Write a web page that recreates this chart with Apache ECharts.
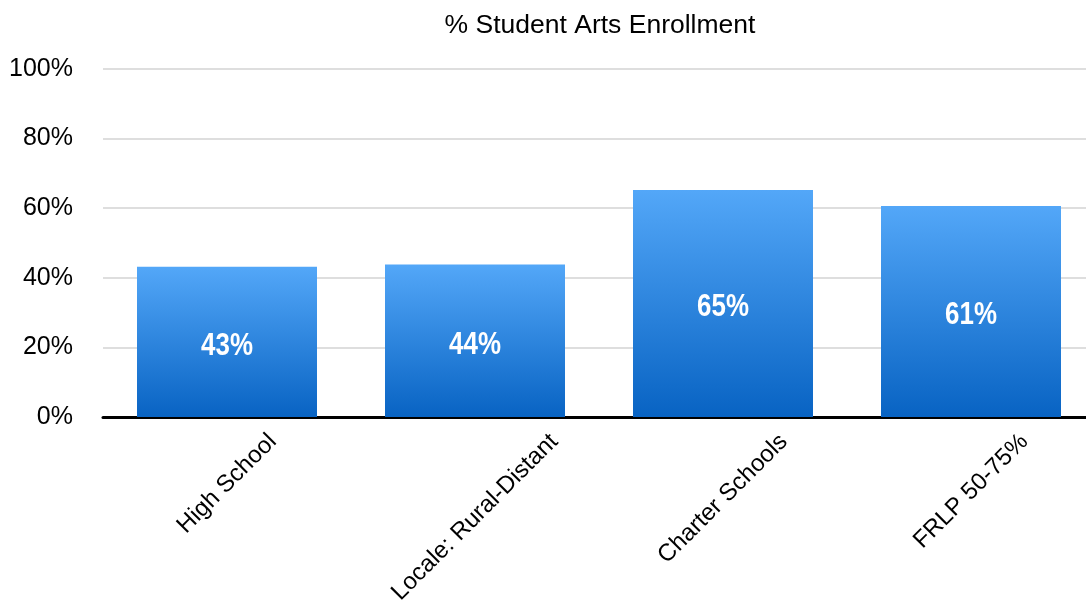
<!DOCTYPE html>
<html>
<head>
<meta charset="utf-8">
<script src="https://cdn.jsdelivr.net/npm/echarts@6/dist/echarts.min.js"></script>
<style>
  html, body { margin: 0; padding: 0; background: #fff; overflow: hidden; }
  #chart { width: 1086px; height: 601px; }
</style>
</head>
<body>
<div id="chart"></div>
<script>
const title = '% Student Arts Enrollment';
const categories = ['High School', 'Locale: Rural-Distant', 'Charter Schools', 'FRLP 50-75%'];
const values = [43.2, 43.8, 65.2, 60.6];
const yTicks = [0, 20, 40, 60, 80, 100];

const FONT = '"Liberation Sans", Arial, Helvetica, sans-serif';
const X_FONT_SIZE = 24;

// measure category label widths to centre rotated labels on their category
const ctx = document.createElement('canvas').getContext('2d');
ctx.font = X_FONT_SIZE + 'px ' + FONT;
const rich = {};
categories.forEach((c, i) => {
  const L = ctx.measureText(c).width;
  rich['r' + i] = {
    fontFamily: FONT,
    fontSize: X_FONT_SIZE,
    color: '#000',
    padding: [L / 2, L / 2, 0, 0]
  };
});

const chart = echarts.init(document.getElementById('chart'), null, { renderer: 'canvas' });
chart.setOption({
  animation: false,
  backgroundColor: '#ffffff',
  title: {
    text: title,
    left: 595,
    textAlign: 'center',
    top: 7,
    textStyle: { fontFamily: FONT, fontSize: 26.5, fontWeight: 'normal', color: '#000' }
  },
  grid: { left: 103, right: -9, top: 69, bottom: 184, containLabel: false, outerBoundsMode: 'none' },
  xAxis: {
    type: 'category',
    data: categories,
    axisLine: { show: true, lineStyle: { color: '#000', width: 3 } },
    axisTick: { show: false },
    splitLine: { show: false },
    axisLabel: {
      interval: 0,
      rotate: 45,
      align: 'center',
      verticalAlign: 'middle',
      margin: 21,
      hideOverlap: false,
      formatter: (v, i) => '{r' + i + '|' + v + '}',
      rich: rich
    }
  },
  yAxis: {
    type: 'value',
    min: yTicks[0],
    max: yTicks[yTicks.length - 1],
    interval: yTicks[1] - yTicks[0],
    axisLine: { show: false },
    axisTick: { show: false },
    splitLine: { show: true, lineStyle: { color: '#d3d3d3', width: 1.5 } },
    axisLabel: {
      margin: 30,
      color: '#000',
      fontFamily: FONT,
      fontSize: 25,
      formatter: '{value}%'
    }
  },
  series: [{
    type: 'bar',
    data: values,
    barWidth: 180,
    itemStyle: {
      color: new echarts.graphic.LinearGradient(0, 0, 0, 1, [
        { offset: 0, color: '#53a7f8' },
        { offset: 1, color: '#0863c3' }
      ])
    }
  }, {
    // value labels in a condensed bold face, placed at the bar midpoints via the axes
    type: 'custom',
    data: values.map((v, i) => [i, v]),
    z: 10,
    silent: true,
    renderItem: (params, api) => {
      const v = api.value(1);
      const p = api.coord([api.value(0), v / 2]);
      return {
        type: 'text',
        x: p[0],
        y: p[1] + 4,
        scaleX: 0.81,
        style: {
          text: Math.round(v) + '%',
          fill: '#fff',
          font: 'bold 32px "Liberation Sans", Arial, sans-serif',
          textAlign: 'center',
          textVerticalAlign: 'middle',
          align: 'center',
          verticalAlign: 'middle'
        }
      };
    }
  }]
});
</script>
</body>
</html>
